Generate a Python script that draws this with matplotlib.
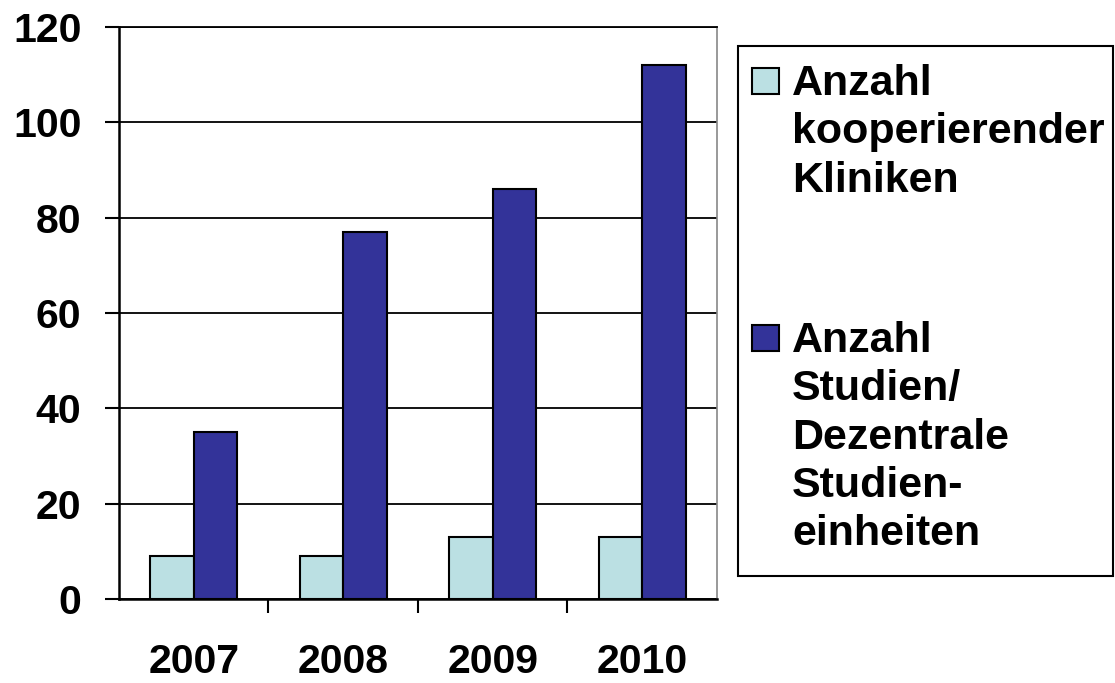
import matplotlib.pyplot as plt
import numpy as np
from matplotlib.patches import Rectangle

plt.rcParams['font.family'] = ['Liberation Sans', 'DejaVu Sans']
plt.rcParams['font.weight'] = 'bold'

years = ['2007', '2008', '2009', '2010']
kliniken = [9, 9, 13, 13]
studien = [35, 77, 86, 112]
series_labels = ['Anzahl\nkooperierender\nKliniken',
                 'Anzahl\nStudien/\nDezentrale\nStudien-\neinheiten']
colors = ['#BBE0E3', '#333399']

fig = plt.figure(figsize=(11.15, 6.83), dpi=100)
ax = fig.add_axes([0.1067, 0.123, 0.5363, 0.8375])

x = np.arange(len(years))
w = 0.29
ax.bar(x - w / 2, kliniken, w, color=colors[0], edgecolor='black', linewidth=1.5, zorder=3)
ax.bar(x + w / 2, studien, w, color=colors[1], edgecolor='black', linewidth=1.5, zorder=3)

ax.set_xlim(-0.5, 3.5)
ax.set_ylim(0, 120)
ax.set_yticks(range(0, 121, 20))
ax.yaxis.grid(True, color='black', linewidth=1.3, zorder=0)
ax.set_axisbelow(True)

# year labels in the middle, tick marks at the group borders
ax.set_xticks(x)
ax.set_xticklabels(years)
ax.set_xticks(np.arange(0.5, 3.5, 1.0), minor=True)
ax.tick_params(axis='x', which='major', length=0, pad=32, labelsize=29.5)
ax.tick_params(axis='x', which='minor', length=10, width=1.5, direction='out')
ax.tick_params(axis='y', length=10, width=1.5, direction='out', pad=17, labelsize=29.5)

for s in ['left', 'bottom']:
    ax.spines[s].set_linewidth(1.8)
ax.spines['top'].set_linewidth(1.3)
ax.spines['right'].set_color('#888888')
ax.spines['right'].set_linewidth(1.2)

# legend box drawn by hand so the swatch sits on the first line
fig.patches.append(Rectangle((0.662, 0.1567), 0.336, 0.776, transform=fig.transFigure,
                             facecolor='white', edgecolor='black', linewidth=1.5))
sq_w, sq_h = 27 / 1115, 26 / 683
for lab, col, top in zip(series_labels, colors, [68, 325]):
    yf = 1 - top / 683
    fig.patches.append(Rectangle((752 / 1115, yf - sq_h), sq_w, sq_h, transform=fig.transFigure,
                                 facecolor=col, edgecolor='black', linewidth=1.5))
    fig.text(792 / 1115, yf + 0.006, lab, fontsize=31, fontweight='bold', va='top', ha='left',
             linespacing=1.27)

fig.savefig('out.png', dpi=100)
